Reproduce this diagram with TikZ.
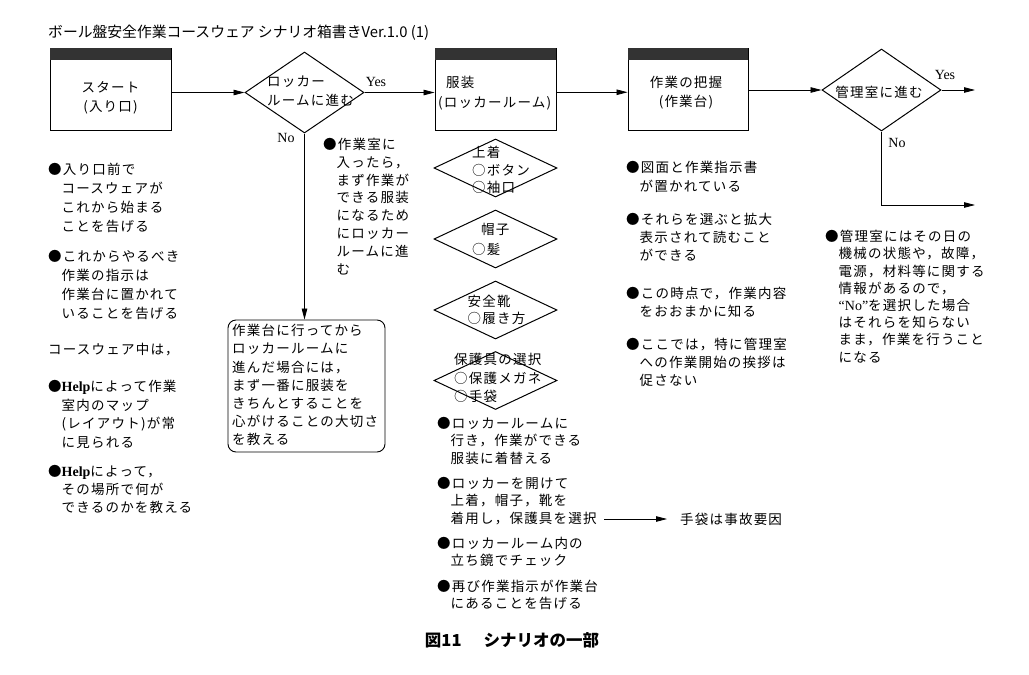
\documentclass[tikz,border=0pt]{standalone}
\usepackage{fontspec}
\setmainfont{Noto Sans CJK JP}
\newfontfamily\jbody[LetterSpace=9]{Noto Sans CJK JP}
\newfontfamily\jgoth{Noto Sans CJK JP}
\newfontfamily\lat{Liberation Serif}
\usetikzlibrary{shapes.geometric,arrows.meta}
\newcommand\myind{\hspace*{1em}}
\newcommand\helpword{{\lat\bfseries\fontsize{14}{14}\selectfont Help}}
\definecolor{hdrcol}{HTML}{333333}
\begin{document}
\begin{tikzpicture}[x=1pt,y=-1pt,
  box/.style={draw, line width=0.9pt, minimum width=121pt, minimum height=82.5pt, inner sep=0},
  dia/.style={draw, diamond, line width=1pt, inner sep=0},
  arr/.style={-{Triangle[length=11pt,width=5.5pt]}, line width=0.8pt},
  txt/.style={anchor=north west, align=left, inner sep=0},
  t19/.style={txt, font={\jbody\fontsize{13.5}{19}\selectfont}},
  t18/.style={txt, font={\jbody\fontsize{13.5}{18}\selectfont}},
  t17/.style={txt, font={\jbody\fontsize{13.5}{17.3}\selectfont}},
  ctr/.style={align=center, inner sep=0, font={\jbody\fontsize{13.5}{19}\selectfont}},
  lbl/.style={inner sep=0, font={\lat\fontsize{14}{16}\selectfont}},
]
\useasboundingbox[fill=white] (0,0) rectangle (1029,675);

% title
\node[anchor=west, inner sep=0, font={\jgoth\fontsize{14.8}{17}\selectfont}] (title) at (48,33) {ボール盤安全作業コースウェア シナリオ箱書きVer.1.0 (1)};

% main row
\node[box] (b1) at (110.5,89.25) {};
\node[box] (b2) at (495.5,89.25) {};
\node[box, minimum width=120pt] (b3) at (688,89.25) {};
\foreach \b in {b1,b2,b3}{\fill[hdrcol] (\b.north west) rectangle ([yshift=-12.5pt]\b.north east);}
\node[dia, minimum width=119pt, minimum height=81pt] (d1) at (304.5,92.5) {};
\node[dia, minimum width=119pt, minimum height=82pt] (d2) at (881.5,90) {};

\node[ctr] (b1t) at (110.5,97.5) {スタート\\(入り口)};
\node[t19, font={\jbody\fontsize{13.5}{20}\selectfont}] (b2t) at (438,76) {\hspace*{8pt}服装\\(ロッカールーム)};
\node[ctr] (b3t) at (686,92.5) {作業の把握\\(作業台)};
\node[t19] (d1t) at (267,76) {ロッカー\\ルームに進む};
\node[inner sep=0, font={\jbody\fontsize{13.5}{19}\selectfont}] (d2t) at (879,92) {管理室に進む};

\node[lbl] (yes1) at (376,82) {Yes};
\node[lbl] (no1) at (286,138) {No};
\node[lbl] (yes2) at (945,75) {Yes};
\node[lbl] (no2) at (897,143) {No};

\coordinate (yesEnd) at (975,90);
\coordinate (noCorner) at (881.5,205);
\coordinate (noEnd) at (975,205);

\draw[arr] (b1.east |- d1.west) -- (d1.west);
\draw[arr] (d1.east) -- (b2.west |- d1.east);
\draw[arr] ([yshift=-3pt]b2.east) -- ([yshift=-3pt]b3.west);
\draw[arr] (b3.east |- d2.west) -- (d2.west);
\draw[arr] (d2.east) -- (yesEnd);
\draw[arr] (d2.south) -- (noCorner) -- (noEnd);

% No branch of d1
\node[draw, rounded corners=8pt, line width=0.9pt, minimum width=157pt, minimum height=132pt, inner sep=0] (rb) at (306.5,386) {};
\draw[arr] (d1.south) -- (d1.south |- rb.north);
\node[t18, font={\jbody\fontsize{13.5}{18.2}\selectfont}] (rbt) at (232,324) {作業台に行ってから\\ロッカールームに\\進んだ場合には，\\まず一番に服装を\\きちんとすることを\\心がけることの大切さ\\を教える};
\node[t18, font={\jbody\fontsize{13.5}{17.8}\selectfont}] (mb) at (323,138) {●作業室に\\\myind 入ったら，\\\myind まず作業が\\\myind できる服装\\\myind になるため\\\myind にロッカー\\\myind ルームに進\\\myind む};

% left column
\node[t19] (la1) at (48,163) {●入り口前で\\\myind コースウェアが\\\myind これから始まる\\\myind ことを告げる};
\node[t19] (la2) at (48,250) {●これからやるべき\\\myind 作業の指示は\\\myind 作業台に置かれて\\\myind いることを告げる};
\node[t19] (la3) at (48,343) {コースウェア中は，};
\node[t18, font={\jbody\fontsize{13.5}{18.5}\selectfont}] (la4) at (48,380) {●\helpword によって作業\\\myind 室内のマップ\\\myind (レイアウト)が常\\\myind に見られる};
\node[t18] (la5) at (48,465) {●\helpword によって，\\\myind その場所で何が\\\myind できるのかを教える};

% small diamonds under b2
\node[dia, minimum width=123pt, minimum height=58pt] (da) at (495.5,168) {};
\node[dia, minimum width=123pt, minimum height=58pt] (db) at (495.5,239) {};
\node[dia, minimum width=123pt, minimum height=58pt] (dc) at (495.5,310) {};
\node[dia, minimum width=123pt, minimum height=58pt] (dd) at (495.5,380.5) {};
\node[t17, font={\jbody\fontsize{13.5}{17.5}\selectfont}] (ta) at (472,146) {上着\\○ボタン\\○袖口};
\node[t17, font={\jbody\fontsize{13.5}{20}\selectfont}] (tb) at (472,223) {\hspace*{9pt}帽子\\○髪};
\node[t17] (tc) at (467.5,295) {安全靴\\○履き方};
\node[t17, font={\jbody\fontsize{13.5}{18.5}\selectfont}] (td) at (454,353) {保護具の選択\\○保護メガネ\\○手袋};

% bullets under diamonds
\node[t17] (c1) at (437,417) {●ロッカールームに\\\myind 行き，作業ができる\\\myind 服装に着替える};
\node[t17] (c2) at (437,477) {●ロッカーを開けて\\\myind 上着，帽子，靴を\\\myind 着用し，保護具を選択};
\node[t17] (c3) at (437,537) {●ロッカールーム内の\\\myind 立ち鏡でチェック};
\node[t17] (c4) at (437,580) {●再び作業指示が作業台\\\myind にあることを告げる};
\coordinate (gs) at (604,519);
\node[anchor=west, inner sep=0, font={\jbody\fontsize{13.5}{17}\selectfont}] (glove) at (680,519) {手袋は事故要因};
\draw[arr] (gs) -- ([xshift=-13pt]glove.west);

% b3 column
\node[t19] (e1) at (626,161) {●図面と作業指示書\\\myind が置かれている};
\node[t18] (e2) at (626,213) {●それらを選ぶと拡大\\\myind 表示されて読むこと\\\myind ができる};
\node[t18] (e3) at (626,287) {●この時点で，作業内容\\\myind をおおまかに知る};
\node[t18] (e4) at (626,338) {●ここでは，特に管理室\\\myind への作業開始の挨拶は\\\myind 促さない};

% right column
\node[t17, font={\jbody\fontsize{13.5}{17.2}\selectfont}] (r1) at (825,230) {●管理室にはその日の\\\myind 機械の状態や，故障，\\\myind 電源，材料等に関する\\\myind 情報があるので，\\\myind {\lat\fontsize{14}{14}\selectfont “No”}を選択した場合\\\myind はそれらを知らない\\\myind まま，作業を行うこと\\\myind になる};

% caption
\node[inner sep=0, font={\jgoth\bfseries\fontsize{16.5}{19}\selectfont}] (cap) at (512,640) {図11\hspace{22pt}シナリオの一部};
\end{tikzpicture}
\end{document}
